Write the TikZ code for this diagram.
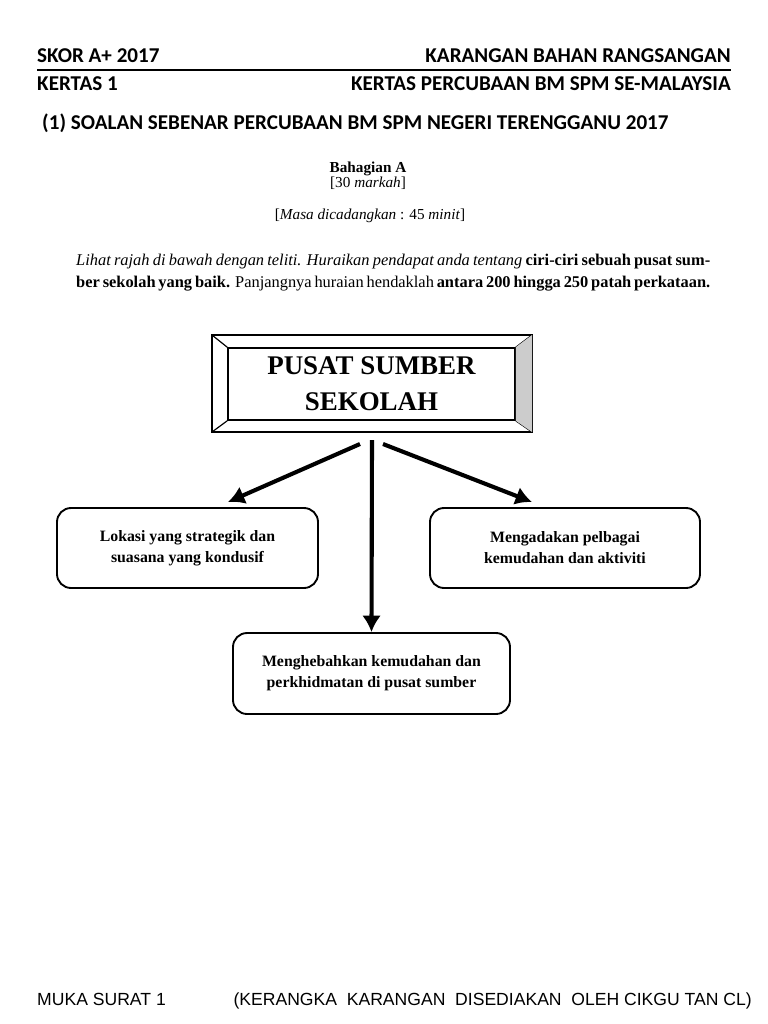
\documentclass[tikz,border=0pt]{standalone}
\usepackage{fontspec}
\setmainfont{Liberation Serif}
\newfontfamily\hdfont{Carlito}
\newfontfamily\ftfont{Liberation Sans}
\usetikzlibrary{positioning,calc}
\tikzstyle{header_text}=[inner sep=0pt,font=\hdfont\bfseries\fontsize{18}{20}\selectfont]
\tikzstyle{exam_text}=[inner sep=0pt,font=\fontsize{13}{15}\selectfont]
\tikzstyle{point_box}=[draw,line width=1.6pt,rounded corners=12pt,align=center,font=\bfseries\fontsize{13.5}{18}\selectfont]
\tikzstyle{big_arrow}=[line width=3.5pt,-{Latex[length=14pt,width=16pt]}]
\usetikzlibrary{arrows.meta}

\begin{document}
\begin{tikzpicture}[x=0.03cm,y=-0.03cm]
            \useasboundingbox (0,0) rectangle (768,1024);

            % Header
            \node[header_text,anchor=base west] (skor) at (37,62) {SKOR A+ 2017};
            \node[header_text,anchor=base east] (karangan) at (731,62) {KARANGAN BAHAN RANGSANGAN};
            \draw[line width=1.2pt] (37,70) -- (731,70);
            \node[header_text,anchor=base west] (kertas) at (37,90) {KERTAS 1};
            \node[header_text,anchor=base east] (percubaan) at (731,90) {KERTAS PERCUBAAN BM SPM SE-MALAYSIA};
            \node[header_text,anchor=base west] (soalan) at (42,129) {(1) SOALAN SEBENAR PERCUBAAN BM SPM NEGERI TERENGGANU 2017};

            % Question
            \node[exam_text,anchor=base,font=\bfseries\fontsize{13}{15}\selectfont] (bahagian) at (368,172) {Bahagian A};
            \node[exam_text,anchor=base] (markah) at (368,187) {[30 \textit{markah}]};
            \node[exam_text,anchor=base] (masa) at (370,219) {[\textit{Masa dicadangkan} : 45 \textit{minit}]};
            \node[exam_text,anchor=north west,align=justify,text width=19.02cm,font=\fontsize{14}{18.5}\selectfont] (arahan) at (76,254)
                {\textit{Lihat rajah di bawah dengan teliti. Huraikan pendapat anda tentang} \textbf{ciri-ciri sebuah pusat sumber sekolah yang baik.} Panjangnya huraian hendaklah \textbf{antara 200 hingga 250 patah perkataan.}};

            % Title box
            \draw[line width=1.6pt] (212,335) rectangle (532,432);
            \node[draw,line width=1.4pt,minimum width=287*0.03cm,minimum height=72*0.03cm,align=center,font=\bfseries\fontsize{23}{31}\selectfont] (pusat) at (371.5,384) {PUSAT SUMBER\\SEKOLAH};
            \draw[line width=1pt] (212,335) -- (pusat.north west);
            \draw[line width=1pt] (532,335) -- (pusat.north east);
            \draw[line width=1pt] (212,432) -- (pusat.south west);
            \draw[line width=1pt] (532,432) -- (pusat.south east);
            \fill[gray!40] (pusat.north east) -- (532,335) -- (532,432) -- (pusat.south east) -- cycle;

            % Points
            \node[point_box,minimum width=261*0.03cm,minimum height=80*0.03cm] (lokasi) at (187.5,548) {Lokasi yang strategik dan\\suasana yang kondusif};
            \node[point_box,minimum width=270*0.03cm,minimum height=80*0.03cm] (kemudahan) at (565,548) {Mengadakan pelbagai\\kemudahan dan aktiviti};
            \node[point_box,minimum width=277*0.03cm,minimum height=81*0.03cm] (hebah) at (371.5,673.5) {Menghebahkan kemudahan dan\\perkhidmatan di pusat sumber};

            \coordinate (left_tip) at (228,502);
            \coordinate (right_tip) at (532,502);
            \draw[big_arrow] (360,444) -- (left_tip);
            \draw[big_arrow] (383,444) -- (right_tip);
            \draw[big_arrow] (372,440) -- (hebah.north);

            % Footer
            \node[inner sep=0pt,anchor=base west,font=\ftfont\fontsize{15}{17}\selectfont] (muka) at (37,1005) {MUKA SURAT 1};
            \node[inner sep=0pt,anchor=base east,font=\ftfont\fontsize{15}{17}\selectfont] (kerangka) at (752,1005) {(KERANGKA\ \ KARANGAN\ \ DISEDIAKAN\ \ OLEH CIKGU TAN CL)};

        \end{tikzpicture}
\end{document}
